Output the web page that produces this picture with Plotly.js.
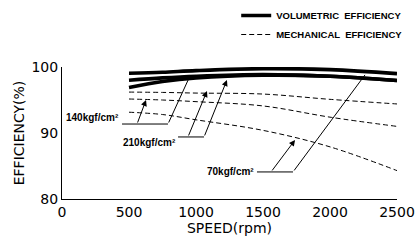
<!DOCTYPE html>
<html><head><meta charset="utf-8">
<script src="https://cdn.plot.ly/plotly-3.0.1.min.js"></script>
<style>html,body{margin:0;padding:0;background:#fff}#chart{width:419px;height:244px}</style>
</head><body><div id="chart"></div>
<script>
// Speed (rpm)
const speed = [500, 750, 1000, 1500, 2000, 2500];
// Volumetric efficiency (%)
const vol70  = [99.05, 99.2, 99.45, 99.75, 99.6, 99.0];
const vol140 = [98.0, 98.35, 98.6, 98.85, 98.6, 97.95];
const vol210 = [96.9, 97.8, 98.35, 98.75, 98.6, 97.95];
// Mechanical efficiency (%)
const mech210 = [96.2, 96.15, 96.05, 95.9, 95.1, 94.4];
const mech140 = [95.15, 95.0, 94.75, 94.1, 92.4, 91.0];
const mech70  = [93.15, 92.8, 92.0, 90.4, 87.9, 84.3];

const legendNames = ["VOLUMETRIC  EFFICIENCY", "MECHANICAL  EFFICIENCY"];
const pressureLabels = ["140kgf/cm²", "210kgf/cm²", "70kgf/cm²"];
const xTickVals = [0, 500, 1000, 1500, 2000, 2500];
const yTickVals = [80, 90, 100];

function volTrace(y, show) {
  return {x: speed, y: y, mode: 'lines', type: 'scatter',
    line: {color: '#000', width: 3.6, shape: 'spline'},
    name: legendNames[0], showlegend: show, hoverinfo: 'skip'};
}
function mechTrace(y, show) {
  return {x: speed, y: y, mode: 'lines', type: 'scatter',
    line: {color: '#000', width: 1, dash: '5px,3px', shape: 'spline'},
    name: legendNames[1], showlegend: show, hoverinfo: 'skip'};
}
const data = [
  volTrace(vol70, true), volTrace(vol140, false), volTrace(vol210, false),
  mechTrace(mech210, true), mechTrace(mech140, false), mechTrace(mech70, false)
];

const labFont = {family: 'Liberation Sans, Arial, sans-serif', size: 10, color: '#000', weight: 'bold'};
function arrow(tx, ty, fx, fy, head) {
  return {x: tx, y: ty, ax: fx, ay: fy, xref: 'x', yref: 'y', axref: 'x', ayref: 'y',
    text: '', showarrow: true, arrowhead: head ? 2 : 0, arrowsize: 1.2, arrowwidth: 1,
    arrowcolor: '#000', standoff: 0, startstandoff: 0};
}
function seg(x0, y0, x1, y1) {
  return {type: 'line', xref: 'x', yref: 'y', x0: x0, y0: y0, x1: x1, y1: y1,
    line: {color: '#000', width: 1}};
}
const annotations = [
  {x: 440, y: 92.42, xref: 'x', yref: 'y', text: pressureLabels[0], showarrow: false, xanchor: 'right', yanchor: 'middle', font: labFont},
  {x: 865, y: 88.53, xref: 'x', yref: 'y', text: pressureLabels[1], showarrow: false, xanchor: 'right', yanchor: 'middle', font: labFont},
  {x: 1447, y: 84.24, xref: 'x', yref: 'y', text: pressureLabels[2], showarrow: false, xanchor: 'right', yanchor: 'middle', font: labFont},
  arrow(627, 95.0, 560, 91.36, true),
  arrow(948, 98.33, 791, 91.36, false),
  arrow(1082, 96.36, 940, 89.4, true),
  arrow(1231, 98.03, 1060, 89.4, true),
  arrow(1739, 88.94, 1560, 84.1, true),
  arrow(2261, 98.8, 1724, 84.1, false)
];
const shapes = [
  seg(448, 91.36, 791, 91.36),
  seg(866, 89.4, 1060, 89.4),
  seg(1455, 84.1, 1724, 84.1)
];

const axFont = {family: 'DejaVu Sans, sans-serif', size: 14, color: '#000'};
const layout = {
  width: 419, height: 244,
  margin: {l: 62, r: 22, t: 67, b: 45, pad: 0, autoexpand: false},
  paper_bgcolor: '#fff', plot_bgcolor: '#fff',
  xaxis: {range: [0, 2500], tickvals: xTickVals, ticks: '', showgrid: false, zeroline: false,
    showline: true, linecolor: '#000', linewidth: 1, tickfont: axFont,
    title: {text: 'SPEED(rpm)', font: axFont, standoff: 0}},
  yaxis: {range: [80, 100], tickvals: yTickVals, ticks: '', showgrid: false, zeroline: false,
    showline: true, linecolor: '#000', linewidth: 1, tickfont: axFont,
    title: {text: 'EFFICIENCY(%)', font: axFont}},
  showlegend: true,
  legend: {x: 0.52, y: 1.5, xanchor: 'left', yanchor: 'top', bgcolor: 'rgba(0,0,0,0)',
    font: {family: 'Liberation Sans, Arial, sans-serif', size: 9.5, color: '#000', weight: 'bold'},
    tracegroupgap: 0, itemwidth: 30},
  annotations: annotations,
  shapes: shapes
};
Plotly.newPlot('chart', data, layout, {staticPlot: true, displayModeBar: false});
</script>
</body></html>
